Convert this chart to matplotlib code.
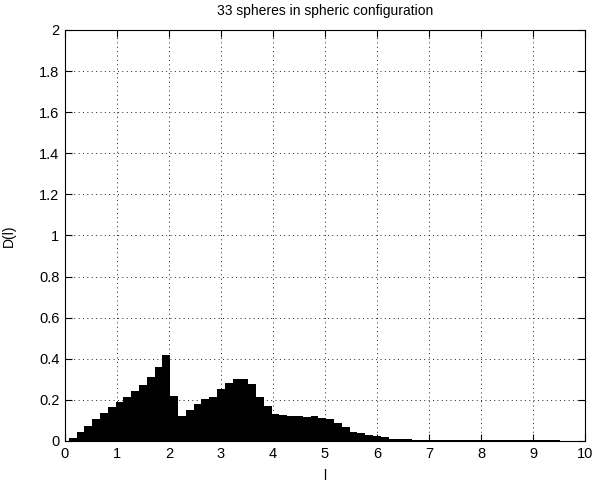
import numpy as np
import matplotlib
matplotlib.use("Agg")
import matplotlib.pyplot as plt

plt.rcParams['font.family'] = ['Liberation Sans', 'DejaVu Sans']

# histogram bin centres (step 0.15) and normalised counts D(l)
bin_step = 0.15
heights = [
    0.0, 0.015, 0.045, 0.075, 0.106, 0.135, 0.164, 0.19, 0.216, 0.245,
    0.273, 0.31, 0.36, 0.42, 0.22, 0.12, 0.151, 0.179, 0.203, 0.215,
    0.252, 0.281, 0.304, 0.304, 0.275, 0.216, 0.169, 0.133, 0.125, 0.12,
    0.12, 0.115, 0.122, 0.11, 0.106, 0.086, 0.067, 0.045, 0.037, 0.031,
    0.022, 0.017, 0.009, 0.009, 0.008, 0.007, 0.004, 0.003, 0.003, 0.003,
    0.003, 0.003, 0.003, 0.003, 0.003, 0.003, 0.003, 0.003, 0.003, 0.003,
    0.003, 0.005, 0.005, 0.004,
]
centers = np.arange(len(heights)) * bin_step

x_ticks = list(range(0, 11))
y_ticks = [0, 0.2, 0.4, 0.6, 0.8, 1.0, 1.2, 1.4, 1.6, 1.8, 2.0]
y_tick_labels = ["0", "0.2", "0.4", "0.6", "0.8", "1", "1.2", "1.4", "1.6", "1.8", "2"]

fig = plt.figure(figsize=(5.93, 4.83), dpi=100)
ax = fig.add_axes([0.1096, 0.087, 0.8769, 0.8509])

ax.bar(centers, heights, width=bin_step, color="black", edgecolor="none",
       align="center", zorder=2)

ax.set_xlim(0, 10)
ax.set_ylim(0, 2)
ax.set_xticks(x_ticks)
ax.set_xticklabels([str(t) for t in x_ticks])
ax.set_yticks(y_ticks)
ax.set_yticklabels(y_tick_labels)

ax.grid(True, color="#222222", linestyle=(0, (1, 3.5)), linewidth=0.7, zorder=1)
ax.set_axisbelow(True)

ax.tick_params(direction="in", length=5, width=0.8, top=True, right=True,
               labelsize=10.5, pad=4, colors="black")
for s in ax.spines.values():
    s.set_linewidth(0.8)
    s.set_color("black")

ax.set_title("33 spheres in spheric configuration", fontsize=10, pad=11)
ax.set_xlabel("l", fontsize=10, labelpad=6)
ax.set_ylabel("D(l)", fontsize=10, labelpad=17)

fig.savefig("out.png", dpi=100, facecolor="white")
